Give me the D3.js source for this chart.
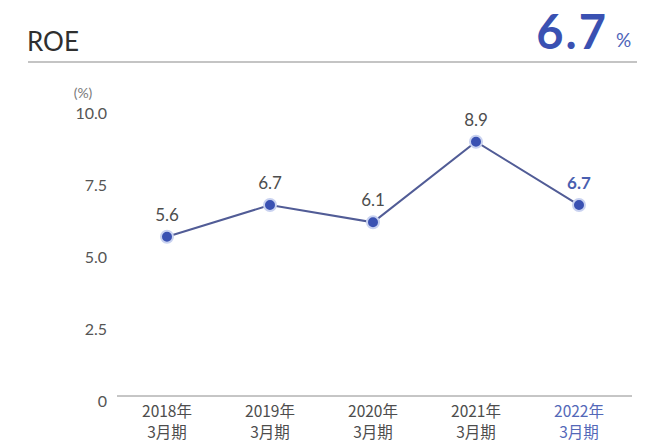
<!DOCTYPE html>
<html>
<head>
<meta charset="utf-8">
<script src="https://cdn.jsdelivr.net/npm/d3@7"></script>
<style>
  html, body { margin: 0; padding: 0; background: #fff; }
  svg { display: block; }
</style>
</head>
<body>
<script>
// ROE by fiscal year (March year-end), in percent
const years = ["2018年", "2019年", "2020年", "2021年", "2022年"];
const periods = ["3月期", "3月期", "3月期", "3月期", "3月期"];
const roe = [5.6, 6.7, 6.1, 8.9, 6.7];
const yTicks = [0, 2.5, 5.0, 7.5, 10.0];
const yTickLabels = ["0", "2.5", "5.0", "7.5", "10.0"];
const headline = "6.7";

const W = 647, H = 442;
const blue = "#3a51b2";
const lineColor = "#515c96";
const textColor = "#4d4d4d";
const numFont = "Lato, 'Noto Sans', sans-serif";
const jpFont = "'Noto Sans CJK JP', 'Noto Sans', sans-serif";

const svg = d3.select("body").append("svg")
  .attr("width", W).attr("height", H);

// Header
svg.append("text")
  .attr("x", 27).attr("y", 51)
  .attr("font-family", numFont).attr("font-size", 26)
  .attr("fill", "#2f2f2f")
  .text("ROE");

svg.append("text")
  .attr("x", 608).attr("y", 49)
  .attr("text-anchor", "end")
  .attr("font-family", numFont).attr("font-weight", 700)
  .attr("font-size", 47).attr("letter-spacing", 2)
  .attr("fill", blue)
  .text(headline);

svg.append("text")
  .attr("x", 616).attr("y", 47)
  .attr("font-family", numFont).attr("font-size", 19)
  .attr("fill", "#4d63b8")
  .text("%");

svg.append("line")
  .attr("x1", 28).attr("x2", 637)
  .attr("y1", 62).attr("y2", 62)
  .attr("stroke", "#8a8a8a").attr("stroke-width", 1.2);

// Scales
const x = d3.scalePoint()
  .domain(d3.range(roe.length))
  .range([167, 579]);

const y = d3.scaleLinear()
  .domain([0, 10])
  .range([398, 110]);

// Unit label
svg.append("text")
  .attr("x", 83).attr("y", 98)
  .attr("text-anchor", "middle")
  .attr("font-family", numFont).attr("font-size", 14)
  .attr("fill", "#7a7a7a")
  .text("(%)");

// Y axis labels (no axis line)
const yAxis = d3.axisLeft(y)
  .tickValues(yTicks)
  .tickFormat((d, i) => yTickLabels[i])
  .tickSize(0)
  .tickPadding(0);

const gy = svg.append("g")
  .attr("transform", "translate(107,0)")
  .call(yAxis);
gy.select(".domain").remove();
gy.selectAll("text")
  .attr("font-family", numFont).attr("font-size", 16)
  .attr("fill", "#555")
  .attr("dy", "0.55em");

// Baseline
svg.append("line")
  .attr("x1", 117).attr("x2", 632)
  .attr("y1", y(0) - 2).attr("y2", y(0) - 2)
  .attr("stroke", "#8c8c8c").attr("stroke-width", 1);

// Category labels
const cats = svg.append("g");
roe.forEach((v, i) => {
  const col = i === roe.length - 1 ? "#5368b8" : textColor;
  const t = cats.append("text")
    .attr("x", x(i)).attr("text-anchor", "middle")
    .attr("font-family", jpFont).attr("font-size", 15.5)
    .attr("fill", col);
  t.append("tspan").attr("x", x(i)).attr("y", 417).text(years[i]);
  t.append("tspan").attr("x", x(i)).attr("y", 438).text(periods[i]);
});

// Line
const line = d3.line()
  .x((d, i) => x(i))
  .y(d => y(d));

svg.append("path")
  .datum(roe)
  .attr("d", line)
  .attr("fill", "none")
  .attr("stroke", lineColor)
  .attr("stroke-width", 2);

// Points
svg.selectAll("circle.pt")
  .data(roe)
  .join("circle")
  .attr("class", "pt")
  .attr("cx", (d, i) => x(i))
  .attr("cy", d => y(d))
  .attr("r", 6)
  .attr("fill", blue)
  .attr("stroke", "#c9d2f0")
  .attr("stroke-width", 2);

// Value labels
svg.selectAll("text.val")
  .data(roe)
  .join("text")
  .attr("class", "val")
  .attr("x", (d, i) => x(i))
  .attr("y", d => y(d) - 16)
  .attr("text-anchor", "middle")
  .attr("font-family", numFont)
  .attr("font-size", 17)
  .attr("font-weight", (d, i) => i === roe.length - 1 ? 700 : 400)
  .attr("fill", (d, i) => i === roe.length - 1 ? "#4a5fb0" : textColor)
  .text(d => d.toFixed(1));
</script>
</body>
</html>
